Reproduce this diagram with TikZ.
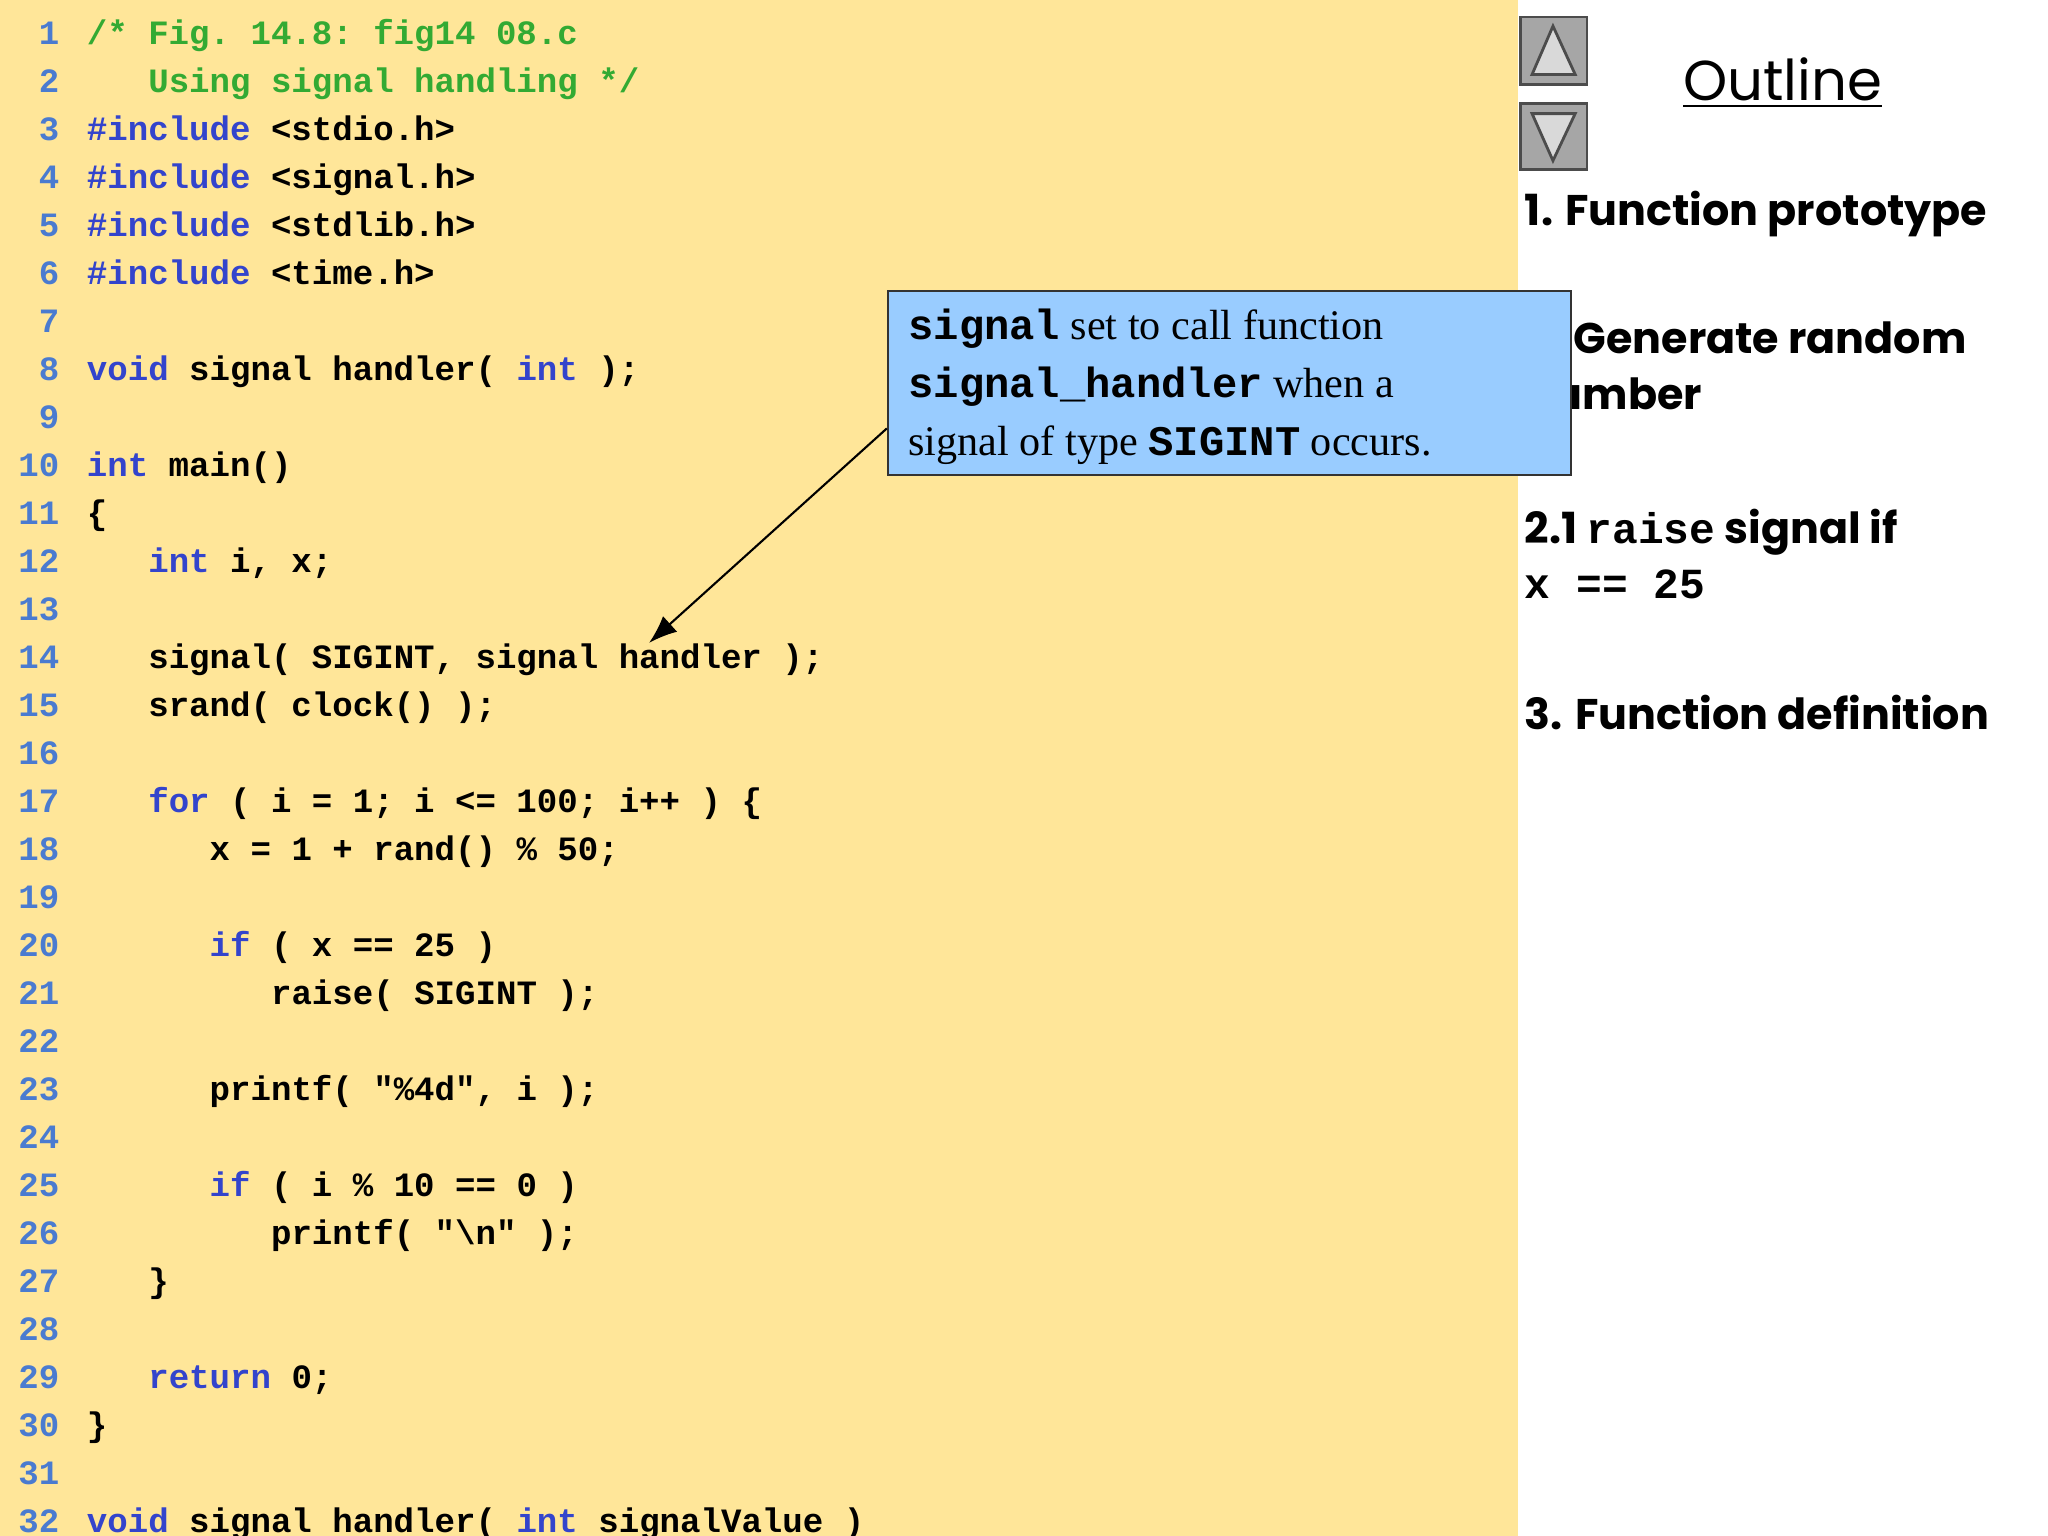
\documentclass[tikz,border=0pt]{standalone}
\usepackage{fontspec}
\setmainfont{Liberation Serif}
\setmonofont{Liberation Mono}
\newfontfamily\panelfont{Poppins}
\usetikzlibrary{arrows.meta}
\definecolor{bgy}{HTML}{FFE699}
\definecolor{kwc}{HTML}{3344CC}
\definecolor{numc}{HTML}{4A7BD0}
\definecolor{cmc}{HTML}{33AA33}
\definecolor{boxc}{HTML}{99CCFF}
\newcommand{\kwd}[1]{\textcolor{kwc}{#1}}
\tikzset{codeln/.style={anchor=base west,inner sep=0,font=\ttfamily\bfseries\fontsize{9.7}{11}\selectfont},
 numln/.style={anchor=base east,inner sep=0,text=numc,font=\ttfamily\bfseries\fontsize{9.7}{11}\selectfont},
 paneltxt/.style={anchor=north west,inner sep=0,align=left,font=\panelfont\bfseries\fontsize{12.2}{15.7}\selectfont},
 btn/.style={draw=black!70,fill=black!35,line width=0.8pt}}
\begin{document}
\begin{tikzpicture}[x=0.013061cm,y=-0.013061cm]
\useasboundingbox (0,0) rectangle (1568,1176);
\fill[bgy] (0,0) rectangle (1162,1176);
\foreach \i in {1,...,32}{\node[numln] (n\i) at (46,{26+(\i-1)*36.74+8}) {\i};}
\newcommand{\cl}[3]{\node[codeln] (c#1) at ({66+47*#2},{26+(#1-1)*36.74+8}) {#3};}
\cl{1}{0}{\textcolor{cmc}{/* Fig. 14.8: fig14 08.c}}
\cl{2}{1}{\textcolor{cmc}{Using signal handling */}}
\cl{3}{0}{\kwd{\#include} <stdio.h>}
\cl{4}{0}{\kwd{\#include} <signal.h>}
\cl{5}{0}{\kwd{\#include} <stdlib.h>}
\cl{6}{0}{\kwd{\#include} <time.h>}
\cl{8}{0}{\kwd{void} signal handler( \kwd{int} );}
\cl{10}{0}{\kwd{int} main()}
\cl{11}{0}{\{}
\cl{12}{1}{\kwd{int} i, x;}
\cl{14}{1}{signal( SIGINT, signal handler );}
\cl{15}{1}{srand( clock() );}
\cl{17}{1}{\kwd{for} ( i = 1; i <= 100; i++ ) \{}
\cl{18}{2}{x = 1 + rand() \% 50;}
\cl{20}{2}{\kwd{if} ( x == 25 )}
\cl{21}{3}{raise( SIGINT );}
\cl{23}{2}{printf( "\%4d", i );}
\cl{25}{2}{\kwd{if} ( i \% 10 == 0 )}
\cl{26}{3}{printf( "\textbackslash n" );}
\cl{27}{1}{\}}
\cl{29}{1}{\kwd{return} 0;}
\cl{30}{0}{\}}
\cl{32}{0}{\kwd{void} signal handler( \kwd{int} signalValue )}
% buttons
\draw[btn] (1164,13) rectangle (1215,65);
\draw[btn,fill=black!15] (1189,20) -- (1173,57) -- (1206,57) -- cycle;
\draw[btn] (1164,79) rectangle (1215,130);
\draw[btn,fill=black!15] (1189,123) -- (1173,87) -- (1206,87) -- cycle;
\node[anchor=base,inner sep=0,font=\panelfont\fontsize{16}{18}\selectfont] (outl) at (1365,77) {\underline{Outline}};
\node[paneltxt] (p1) at (1167,146) {1. Function prototype};
\node[paneltxt] (p2) at (1167,246) {2. Generate random\\number};
\node[paneltxt] (p3) at (1167,389) {2.1 {\ttfamily\bfseries raise} signal if\\{\ttfamily\bfseries x == 25}};
\node[paneltxt] (p4) at (1167,532) {3. Function definition};
% callout
\node[draw=black!80,fill=boxc,line width=0.6pt,minimum width=523*0.013061cm,minimum height=141*0.013061cm,anchor=north west,inner sep=0] (box) at (679,222) {};
\node[anchor=north west,align=left,inner sep=0,font=\fontsize{12}{16.5}\selectfont] (boxt) at (695,236)
 {{\ttfamily\bfseries signal} set to call function\\{\ttfamily\bfseries signal\_handler} when a\\signal of type {\ttfamily\bfseries SIGINT} occurs.};
\coordinate (bs) at (679,328);
\draw[-{Latex[length=8pt]},line width=0.6pt] (bs) -- (c14.north -| 497,0) ;
\end{tikzpicture}
\end{document}
